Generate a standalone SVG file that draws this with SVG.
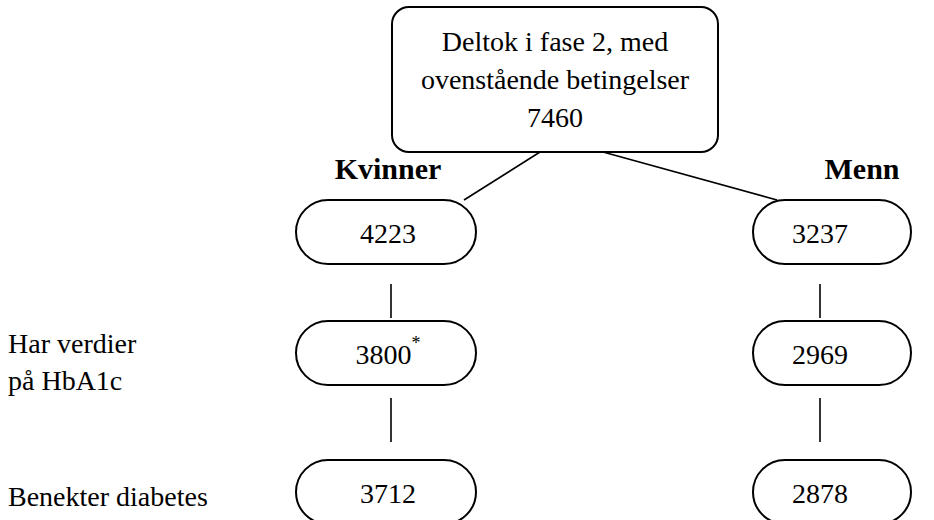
<svg xmlns="http://www.w3.org/2000/svg" width="934" height="520" viewBox="0 0 934 520">
<style>
.box{fill:#fff;stroke:#000;stroke-width:2}
.t{font-family:"Liberation Serif","Times New Roman",serif;font-size:28px;fill:#000}
.c{text-anchor:middle}
.b{font-weight:bold;font-size:30px}
.ln{stroke:#000;stroke-width:1.6;fill:none}
</style>
<rect width="934" height="520" fill="#fff"/>
<g id="connectors">
<line class="ln" x1="540" y1="152" x2="464" y2="200"/>
<line class="ln" x1="603" y1="152" x2="777" y2="200"/>
<line class="ln" x1="391" y1="284" x2="391" y2="318"/>
<line class="ln" x1="391" y1="398" x2="391" y2="442"/>
<line class="ln" x1="820" y1="284" x2="820" y2="318"/>
<line class="ln" x1="820" y1="398" x2="820" y2="442"/>
</g>
<g id="top">
<rect class="box" x="392" y="7" width="326" height="145" rx="17"/>
<text class="t c" x="555" y="51">Deltok i fase 2, med</text>
<text class="t c" x="555" y="89">ovenstående betingelser</text>
<text class="t c" x="555" y="127">7460</text>
</g>
<g id="label-kvinner"><text class="t c b" x="388" y="179">Kvinner</text></g>
<g id="label-menn"><text class="t c b" x="862" y="179">Menn</text></g>
<g id="k1">
<rect class="box" x="296" y="200" width="180" height="64" rx="32"/>
<text class="t c" x="388" y="243">4223</text>
</g>
<g id="m1">
<rect class="box" x="753" y="200" width="158" height="64" rx="32"/>
<text class="t c" x="820" y="243">3237</text>
</g>
<g id="k2">
<rect class="box" x="296" y="321" width="180" height="64" rx="32"/>
<text class="t c" x="388" y="364">3800<tspan font-size="18" dy="-15">*</tspan></text>
</g>
<g id="m2">
<rect class="box" x="753" y="321" width="158" height="64" rx="32"/>
<text class="t c" x="820" y="364">2969</text>
</g>
<g id="k3">
<rect class="box" x="296" y="460" width="180" height="64" rx="32"/>
<text class="t c" x="388" y="503">3712</text>
</g>
<g id="m3">
<rect class="box" x="753" y="460" width="158" height="64" rx="32"/>
<text class="t c" x="820" y="503">2878</text>
</g>
<g id="row-labels">
<text class="t" x="8" y="353">Har verdier</text>
<text class="t" x="8" y="390">på HbA1c</text>
<text class="t" x="8" y="506">Benekter diabetes</text>
</g>
</svg>
